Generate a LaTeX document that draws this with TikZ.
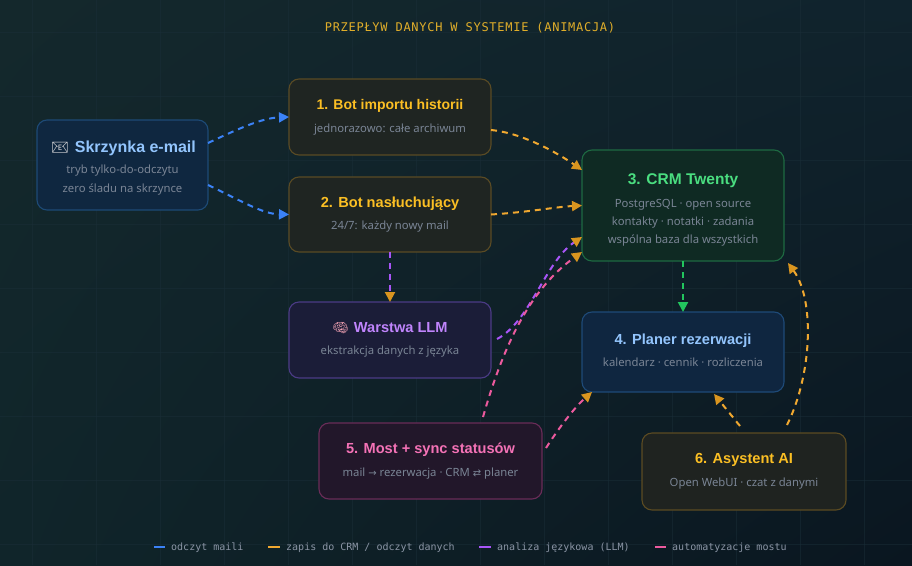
\documentclass[tikz,border=0pt]{standalone}
\usepackage{fontspec}
\setmainfont{Noto Sans}
\newfontfamily\ttlfont{Liberation Sans}
\newfontfamily\monofont{DejaVu Sans Mono}
\newfontfamily\symfont{DejaVu Sans}
\newfontfamily\emojifont{Noto Emoji}
\usetikzlibrary{arrows.meta,calc,shadings}
\definecolor{bgUL}{HTML}{14282C}
\definecolor{bgUR}{HTML}{10232D}
\definecolor{bgLL}{HTML}{10252A}
\definecolor{bgLR}{HTML}{0A1620}
\definecolor{gridc}{HTML}{1A2E38}
\definecolor{subgray}{HTML}{7A8595}
\definecolor{leggray}{HTML}{8B95A5}
\definecolor{hdr}{HTML}{E0AE2A}
\definecolor{tAmber}{HTML}{FBBF24}
\definecolor{tBlue}{HTML}{93C5FD}
\definecolor{tGreen}{HTML}{4ADE80}
\definecolor{tPurple}{HTML}{C084FC}
\definecolor{tPink}{HTML}{F472B6}
\definecolor{fEmail}{HTML}{0F2740}
\definecolor{dEmail}{HTML}{1D4A76}
\definecolor{fBot}{HTML}{1F2522}
\definecolor{dBot}{HTML}{5A4B24}
\definecolor{fCrm}{HTML}{0F2A23}
\definecolor{dCrm}{HTML}{1E6A42}
\definecolor{fLlm}{HTML}{1B1D38}
\definecolor{dLlm}{HTML}{4B3B86}
\definecolor{fPlan}{HTML}{0F2640}
\definecolor{dPlan}{HTML}{1E4A78}
\definecolor{fBridge}{HTML}{22172A}
\definecolor{dBridge}{HTML}{6A2C58}
\definecolor{fAsst}{HTML}{1F2320}
\definecolor{dAsst}{HTML}{5C4B22}
\definecolor{lBlue}{HTML}{3B82F6}
\definecolor{lOrange}{HTML}{F0A830}
\definecolor{aOrange}{HTML}{D9951F}
\definecolor{lPurple}{HTML}{A855F7}
\definecolor{lPink}{HTML}{EC5A9E}
\definecolor{lGreen}{HTML}{22C55E}
\begin{document}
\begin{tikzpicture}[x=1pt,y=-1pt,
  box/.style={draw, rounded corners=10pt, line width=1.1pt, inner sep=0pt, outer sep=0pt},
  ttl/.style={font=\ttlfont\bfseries\fontsize{14.6}{17}\selectfont, inner sep=0pt, anchor=base},
  sub/.style={font=\fontsize{11.3}{13}\selectfont, text=subgray, inner sep=0pt, anchor=base},
  flow/.style={dash pattern=on 6pt off 5pt, line width=2pt},
  tip/.style={-{Triangle[length=10pt,width=10pt,color=#1]}},
  leg/.style={font=\monofont\fontsize{10}{12}\selectfont, text=leggray, inner sep=0pt, anchor=base west},
  swatch/.style={line width=2.5pt}
]
% background
\useasboundingbox (0,0) rectangle (912,565);
\shade[upper left=bgUL, upper right=bgUR, lower left=bgLL, lower right=bgLR] (0,0) rectangle (912,565);
\foreach \gx in {32,96,...,896} \draw[gridc, line width=0.6pt, opacity=0.5] (\gx,0) -- (\gx,565);
\foreach \gy in {32,96,...,544} \draw[gridc, line width=0.6pt, opacity=0.5] (0,\gy) -- (912,\gy);

% header
\node[font=\monofont\fontsize{12}{14}\selectfont\addfontfeature{LetterSpace=6}, text=hdr, inner sep=0pt, anchor=base] (hdr) at (470,31) {PRZEPŁYW DANYCH W SYSTEMIE (ANIMACJA)};

% boxes
\node[box, fill=fEmail, draw=dEmail, minimum width=171pt, minimum height=90pt] (email) at (122.5,165) {};
\node[box, fill=fBot, draw=dBot, minimum width=202pt, minimum height=76pt] (bot1) at (390,117) {};
\node[box, fill=fBot, draw=dBot, minimum width=202pt, minimum height=75pt] (bot2) at (390,214.5) {};
\node[box, fill=fCrm, draw=dCrm, minimum width=202pt, minimum height=111pt] (crm) at (683,205.5) {};
\node[box, fill=fLlm, draw=dLlm, minimum width=202pt, minimum height=76pt] (llm) at (390,340) {};
\node[box, fill=fPlan, draw=dPlan, minimum width=202pt, minimum height=80pt] (plan) at (683,352) {};
\node[box, fill=fBridge, draw=dBridge, minimum width=223pt, minimum height=76pt] (bridge) at (430.5,461) {};
\node[box, fill=fAsst, draw=dAsst, minimum width=204pt, minimum height=77pt] (asst) at (744,471.5) {};

% texts
\node[ttl, text=tBlue, font=\ttlfont\bfseries\fontsize{16}{18}\selectfont] (emailT) at (123.5,152) {{\emojifont\fontsize{14}{16}\selectfont\textcolor[HTML]{E8E6E6}{📧}}\hspace{6pt}Skrzynka e-mail};
\node[sub] (emailS1) at (122.5,173) {tryb tylko-do-odczytu};
\node[sub] (emailS2) at (122.5,192) {zero śladu na skrzynce};

\node[ttl, text=tAmber, font=\ttlfont\bfseries\fontsize{14}{16}\selectfont] (bot1T) at (390,109) {1. Bot importu historii};
\node[sub] (bot1S) at (390,132) {jednorazowo: całe archiwum};

\node[ttl, text=tAmber] (bot2T) at (390,207) {2. Bot nasłuchujący};
\node[sub] (bot2S) at (390,229) {24/7: każdy nowy mail};

\node[ttl, text=tGreen, font=\ttlfont\bfseries\fontsize{15.5}{18}\selectfont] (crmT) at (683,184.5) {3. CRM Twenty};
\node[sub] (crmS1) at (683,207) {PostgreSQL · open source};
\node[sub] (crmS2) at (683,225) {kontakty · notatki · zadania};
\node[sub] (crmS3) at (683,243) {wspólna baza dla wszystkich};

\node[ttl, text=tPurple] (llmT) at (390,332) {{\emojifont\fontsize{13}{15}\selectfont\textcolor[HTML]{F4A3B5}{🧠}}\hspace{5pt}Warstwa LLM};
\node[sub] (llmS) at (390,354) {ekstrakcja danych z języka};

\node[ttl, text=tBlue] (planT) at (683,344) {4. Planer rezerwacji};
\node[sub] (planS) at (683,366) {kalendarz · cennik · rozliczenia};

\node[ttl, text=tPink] (bridgeT) at (430.5,453) {5. Most + sync statusów};
\node[sub] (bridgeS) at (430.5,476) {mail {\symfont\fontsize{10}{12}\selectfont →} rezerwacja · CRM {\symfont\fontsize{10}{12}\selectfont ⇄} planer};

\node[ttl, text=tAmber] (asstT) at (744,463) {6. Asystent AI};
\node[sub] (asstS) at (744,486) {Open WebUI · czat z danymi};

% connectors
\draw[flow, lBlue, tip=lBlue] ($(email.east)+(0,-22)$) .. controls (240,128) and (262,118) .. (bot1.west);
\draw[flow, lBlue, tip=lBlue] ($(email.east)+(0,20)$) .. controls (240,200) and (262,214) .. (bot2.west);
\draw[flow, lOrange, tip=aOrange] ($(bot1.east)+(0,13)$) .. controls (522,133) and (556,152) .. ($(crm.west)+(0,-35.5)$);
\draw[flow, lOrange, tip=aOrange] (bot2.east) .. controls (530,212) and (555,207) .. (crm.west);
\draw[flow, lPurple, tip=aOrange] (bot2.south) -- (llm.north);
\draw[flow, lPurple, tip=aOrange] ($(llm.east)+(6,-1)$) .. controls (530,322) and (545,262) .. ($(crm.west)+(0,31.5)$);
\draw[flow, lPink, tip=aOrange] ($(bridge.north)+(52.5,-6)$) .. controls (505,340) and (532,288) .. ($(crm.west)+(0,46.5)$);
\draw[flow, lPink, tip=aOrange] ($(bridge.east)+(4,-13)$) .. controls (560,426) and (576,406) .. ($(plan.south west)+(10,0)$);
\draw[flow, lGreen, tip=lGreen] (crm.south) -- (plan.north);
\draw[flow, lOrange, tip=aOrange] ($(asst.north)+(-4,-7)$) -- ($(plan.south)+(31,2)$);
\draw[flow, lOrange, tip=aOrange] ($(asst.north)+(43,-8)$) .. controls (812,375) and (815,300) .. ($(crm.south east)+(4,2)$);

% legend
\draw[swatch, lBlue] (154,547) -- (165,547);
\node[leg] (leg1) at (171,550.5) {odczyt maili};
\draw[swatch, lOrange] (268,547) -- (280,547);
\node[leg] (leg2) at (286,550.5) {zapis do CRM / odczyt danych};
\draw[swatch, lPurple] (479,547) -- (491,547);
\node[leg] (leg3) at (497,550.5) {analiza językowa (LLM)};
\draw[swatch, lPink] (655,547) -- (666,547);
\node[leg] (leg4) at (672,550.5) {automatyzacje mostu};
\end{tikzpicture}
\end{document}
